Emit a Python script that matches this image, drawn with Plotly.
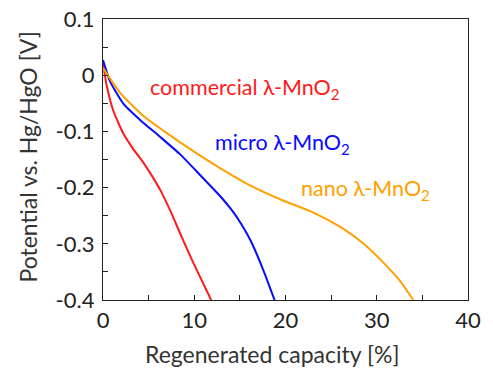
import plotly.graph_objects as go

# Data
red_x = [0, 0.4, 1.1, 2.2, 3.3, 4.4, 5.4, 6.4, 7.4, 8.6, 9.9, 11.85]
red_y = [0.022, -0.018, -0.062, -0.103, -0.131, -0.155, -0.18, -0.208, -0.242, -0.287, -0.334, -0.4]

blue_x = [0, 0.8, 2.2, 4.1, 6.2, 8.4, 10.2, 11.6, 13.0, 14.2, 15.2, 16.2, 17.6, 18.8]
blue_y = [0.027, -0.012, -0.05, -0.08, -0.109, -0.14, -0.17, -0.194, -0.218, -0.242, -0.266, -0.295, -0.348, -0.4]

orange_x = [0, 1.9, 4.4, 7.0, 9.6, 12.6, 16.1, 19.6, 23.0, 26.0, 28.5, 30.7, 32.5, 34.0]
orange_y = [0.013, -0.032, -0.072, -0.103, -0.132, -0.163, -0.196, -0.222, -0.244, -0.27, -0.299, -0.333, -0.365, -0.4]

x_tickvals = [0, 5, 10, 15, 20, 25, 30, 35, 40]
x_ticktext = ["0", "", "10", "", "20", "", "30", "", "40"]
y_tickvals = [0.1, 0.05, 0, -0.05, -0.1, -0.15, -0.2, -0.25, -0.3, -0.35, -0.4]
y_ticktext = ["0.1", "", "0", "", "-0.1", "", "-0.2", "", "-0.3", "", "-0.4"]

labels = ["commercial λ-MnO<sub>2</sub>", "micro λ-MnO<sub>2</sub>", "nano λ-MnO<sub>2</sub>"]
label_x = [4.94, 12.07, 21.5]
label_y = [-0.023, -0.121, -0.204]
colors = ["#ff1a1a", "#0a0aff", "#ffa000"]

x_title = "Regenerated capacity [%]"
y_title = "Potential vs. Hg/HgO [V]"

FONT = "Lato"

fig = go.Figure()
for xs, ys, c in [(red_x, red_y, colors[0]), (blue_x, blue_y, colors[1]), (orange_x, orange_y, colors[2])]:
    fig.add_trace(go.Scatter(x=xs, y=ys, mode="lines",
                             line=dict(color=c, width=2, shape="spline", smoothing=0.5),
                             showlegend=False, cliponaxis=True))

for t, lx, ly, c in zip(labels, label_x, label_y, colors):
    fig.add_annotation(x=lx, y=ly, text=t, showarrow=False, xanchor="left", yanchor="middle",
                       font=dict(family=FONT, size=21.5, color=c))

fig.add_annotation(x=(271.5 - 103) / 365, y=-(354 - 300) / 281, xref="paper", yref="paper",
                   text=x_title, showarrow=False, xanchor="center", yanchor="middle",
                   font=dict(family=FONT, size=23, color="#333"))
fig.add_annotation(x=(27 - 103) / 365, y=(300 - 157.5) / 281, xref="paper", yref="paper",
                   text=y_title, textangle=-90, showarrow=False, xanchor="center", yanchor="middle",
                   font=dict(family=FONT, size=23, color="#333"))

fig.update_layout(
    width=493, height=368,
    margin=dict(l=103, r=25, t=19, b=68, autoexpand=False),
    paper_bgcolor="white", plot_bgcolor="white",
    font=dict(family=FONT, color="#222"),
)
fig.update_xaxes(range=[0, 40], tickvals=x_tickvals, ticktext=x_ticktext, automargin=False,
                 ticks="inside", ticklen=5, tickcolor="#222", showgrid=False, zeroline=False,
                 showline=True, linecolor="#222", linewidth=1.2, mirror=True,
                 ticklabeloverflow="allow",
                 tickfont=dict(family=FONT, size=22, color="#222"))
fig.update_yaxes(range=[-0.4, 0.1], tickvals=y_tickvals, ticktext=y_ticktext, automargin=False,
                 ticks="inside", ticklen=5, tickcolor="#222", showgrid=False, zeroline=False,
                 showline=True, linecolor="#222", linewidth=1.2, mirror=True,
                 ticklabelstandoff=3, ticklabeloverflow="allow",
                 tickfont=dict(family=FONT, size=22, color="#222"))

# remove the browser's default 8px body margin so the 493x368 figure fills the window exactly
fig.write_html("out.html", config={"displayModeBar": False},
               post_script="document.body.style.margin='0';document.body.style.overflow='hidden';")
